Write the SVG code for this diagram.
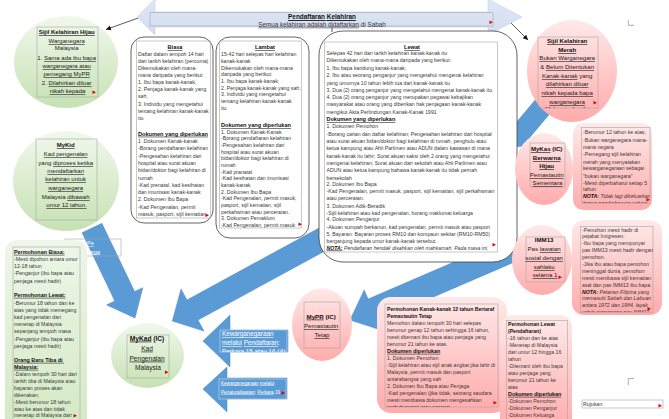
<svg xmlns="http://www.w3.org/2000/svg" width="669" height="419" viewBox="0 0 669 419">
<style>
.t{font-family:"Liberation Sans",Arial,sans-serif;font-size:5.2px;fill:#3a3a3a}
.c6{font-size:6px}
.c63{font-size:6.3px}
.h{font-weight:bold;fill:#111;text-decoration:underline}
.bd{font-weight:bold;fill:#111}
.m{text-anchor:middle}
.w{fill:#fff}
.it{font-style:italic}
.sq{text-decoration:underline wavy #e00000}
.tb{fill:none;stroke:#a6a6a6;stroke-width:0.6}
.rb{fill:#fff;stroke:#3c3c3c;stroke-width:0.8}
.ar{fill:#5b9bd5;stroke:#4a86c5;stroke-width:0.5}
.ln{fill:none;stroke:#111;stroke-width:0.7}
.fl{fill:#e00000}
.gm{fill:none;stroke:#999;stroke-width:0.8}
</style>
<defs>
<linearGradient id="gr" x1="0" y1="0" x2="0" y2="1"><stop offset="0" stop-color="#f1f8ec"/><stop offset="1" stop-color="#c6e1b3"/></linearGradient>
<linearGradient id="gr2" x1="0" y1="0" x2="0" y2="1"><stop offset="0" stop-color="#eef6e9"/><stop offset="1" stop-color="#d3e9c3"/></linearGradient>
<linearGradient id="pk" x1="0" y1="0" x2="0" y2="1"><stop offset="0" stop-color="#ffe9e9"/><stop offset="1" stop-color="#ffabab"/></linearGradient>
<linearGradient id="bn" x1="0" y1="0" x2="0" y2="1"><stop offset="0" stop-color="#dfe7f5"/><stop offset="1" stop-color="#d3ddf0"/></linearGradient>
<marker id="ah" markerWidth="6" markerHeight="6" refX="5" refY="3" orient="auto" markerUnits="userSpaceOnUse"><path d="M0,0.5 L5,3 L0,5.5 Z" fill="#111"/></marker>
<clipPath id="cLam"><rect x="219" y="40" width="84" height="188"/></clipPath>
<clipPath id="cLew"><rect x="324" y="42" width="174" height="210"/></clipPath>
<clipPath id="cMer"><rect x="538" y="37" width="60" height="71"/></clipPath>
<clipPath id="cKas"><rect x="581" y="127" width="69" height="76"/></clipPath>
<clipPath id="cImr"><rect x="580" y="226" width="73" height="86"/></clipPath>
<clipPath id="cF"><rect x="385" y="304" width="113" height="103"/></clipPath>
<clipPath id="cD"><rect x="220" y="330" width="67" height="22"/></clipPath>
<clipPath id="cE"><rect x="219" y="379" width="64" height="20"/></clipPath>
<clipPath id="cA"><rect x="65" y="239" width="56" height="17"/></clipPath>
</defs>

<g id="connectors">
  <polygon class="ar" points="101.9,223.3 134.6,291.6 142.8,287.7 135,318 106.6,304.9 114.8,301 82.1,232.7"/>
  <polygon class="ar" points="331.9,221 187,299.9 181,288.9 172.3,321 204,331.1 198,320.1 342.9,241.2"/>
  <polygon class="ar" points="516.8,261 377.7,321.1 381.6,330.3 350,320 364.2,289.9 368.1,299.1 507.2,239"/>
  <polygon class="ar" points="557.3,73.6 514.4,124.7 506.8,118.2 508,148 537.4,144 529.8,137.5 572.7,86.4"/>
  <polygon class="ar" points="288,330 230,330 230,315 203,341 230,367 230,352 288,352"/>
  <polygon class="ar" points="287,378 227,378 227,367 203,389 227,412 227,399 287,399"/>
  <rect class="tb" x="65" y="239" width="56" height="17"/>
  <g clip-path="url(#cA)">
    <text class="t w" style="font-size:5.6px" x="87" y="245"><tspan class="sq">Pe</tspan></text>
    <text class="t w" style="font-size:5.6px" x="78" y="253.5"><tspan class="sq">Kewarga</tspan></text>
  </g>
  <rect class="tb" style="stroke:#c9d9ef" x="220" y="330" width="67" height="22"/>
  <g clip-path="url(#cD)">
    <text class="t w c63" x="222" y="336"><tspan class="sq">Kewarganegaraan</tspan></text>
    <text class="t w c63" x="222" y="345"><tspan class="sq">melalui</tspan> <tspan class="sq">Pendaftaran</tspan>:</text>
    <text class="t w c63" x="222" y="354">Perkara 15 atau 16 (A)</text>
  </g>
  <rect class="tb" style="stroke:#c9d9ef" x="219" y="379" width="67" height="20"/>
  <g clip-path="url(#cE)">
    <text class="t w" style="font-size:4.6px" x="221" y="384.5"><tspan class="sq">Kewarganegaraan</tspan> <tspan class="sq">melalui</tspan></text>
    <text class="t w" style="font-size:4.6px" x="221" y="393.5"><tspan class="sq">Penaturalisasian</tspan>: <tspan class="sq">Perkara</tspan> 19</text>
  </g>
  <polygon class="fl" points="281.5,391 285,393 281.5,395"/>
  <line class="ln" x1="141" y1="17" x2="106" y2="29.5" marker-end="url(#ah)"/>
  <line class="ln" x1="507" y1="19" x2="528" y2="40" marker-end="url(#ah)"/>
  <line class="ln" x1="332" y1="26" x2="332" y2="32"/>
</g>

<g id="banner">
  <polygon points="137,17 155,-1 155,12 488,12 488,-1 522,17 488,35 488,27 155,27 155,35" fill="url(#bn)" stroke="#c3d1ea" stroke-width="0.6"/>
  <rect class="tb" x="150" y="12.7" width="343" height="13.3"/>
  <text class="t m h" style="font-size:6.4px" x="322" y="19.2"><tspan class="sq">Pendaftaran</tspan> <tspan class="sq">Kelahiran</tspan></text>
  <text class="t m" style="font-size:6.3px" x="322" y="26.6"><tspan class="sq">Semua kelahiran adalah didaftarkan</tspan> di Sabah</text>
  <polygon class="fl" points="489.5,20.5 493,22.3 489.5,24"/>
</g>

<g id="sijil-hijau">
  <ellipse cx="66" cy="62" rx="52" ry="46" fill="url(#gr)"/>
  <rect class="tb" x="37" y="27" width="61" height="70"/>
  <text class="t c6 m" x="67.5" y="34" style="fill:#222">
    <tspan class="h">Sijil Kelahiran Hijau</tspan>
    <tspan x="67.5" y="43" class="sq">Warganegara</tspan>
    <tspan x="67.5" y="49.6">Malaysia</tspan>
    <tspan x="67.5" y="60">1. <tspan class="sq">Sama ada ibu bapa</tspan></tspan>
    <tspan x="67.5" y="68" class="sq">warganegara atau</tspan>
    <tspan x="67.5" y="76" class="sq">pemegang MyPR</tspan>
    <tspan x="67.5" y="85">2. <tspan class="sq">Dilahirkan diluar</tspan></tspan>
    <tspan x="67.5" y="93" class="sq">nikah kepada</tspan>
  </text>
  <polygon class="fl" points="92.5,90.5 96,92.3 92.5,94"/>
</g>

<g id="mykid">
  <ellipse cx="66" cy="181" rx="53" ry="50" fill="url(#gr)"/>
  <rect class="tb" x="36" y="139" width="61" height="81"/>
  <text class="t c6 m" x="66.5" y="147" style="fill:#222">
    <tspan class="h">MyKid</tspan>
    <tspan x="66.5" y="156" class="sq">Kad pengenalan</tspan>
    <tspan x="66.5" y="165">yang <tspan class="sq">diproses ketika</tspan></tspan>
    <tspan x="66.5" y="173" class="sq">mendaftarkan</tspan>
    <tspan x="66.5" y="181" class="sq">kelahiran untuk</tspan>
    <tspan x="66.5" y="190" class="sq">warganegara</tspan>
    <tspan x="66.5" y="199">Malaysia <tspan class="sq">dibawah</tspan></tspan>
    <tspan x="66.5" y="207" class="sq">umur 12 tahun.</tspan>
  </text>
</g>

<g id="biasa">
  <rect class="rb" x="131" y="37" width="82" height="186" rx="13"/>
  <rect class="tb" x="136.5" y="41" width="74" height="177"/>
  <text class="t m h" style="font-size:5.6px" x="175" y="49.2">Biasa</text>
  <text class="t" x="138" y="56.1">
    <tspan x="138" y="56.1">Daftar dalam tempoh 14 hari</tspan>
    <tspan x="138" y="62.8">dari tarikh kelahiran (percuma)</tspan>
    <tspan x="138" y="70.1">Dikemukakan oleh mana-</tspan>
    <tspan x="138" y="76.8">mana daripada yang berikut:</tspan>
    <tspan x="138" y="84.1">1. Ibu bapa kanak-kanak;</tspan>
    <tspan x="138" y="91.1">2. Penjaga kanak-kanak yang</tspan>
    <tspan x="138" y="98.1">sah;</tspan>
    <tspan x="138" y="105.8">3. Individu yang mengetahui</tspan>
    <tspan x="138" y="112.8">tentang kelahiran kanak-kanak</tspan>
    <tspan x="138" y="120.1">itu</tspan>
  </text>
  <text class="t h" style="font-size:5.6px" x="138" y="135.7">Dokumen yang diperlukan</text>
  <text class="t" x="138" y="142.8">
    <tspan x="138" y="142.8">1 .Dokumen Kanak-kanak</tspan>
    <tspan x="138" y="150.1">-Borang pendaftaran kelahiran</tspan>
    <tspan x="138" y="157.5">-Pengesahan kelahiran dari</tspan>
    <tspan x="138" y="164.8">hospital atau surat akuan</tspan>
    <tspan x="138" y="172.1">bidan/doktor bagi kelahiran di</tspan>
    <tspan x="138" y="179.5">rumah</tspan>
    <tspan x="138" y="186.8">-Kad prenatal, kad kesihatan</tspan>
    <tspan x="138" y="194.1">dan imunisasi kanak-kanak</tspan>
    <tspan x="138" y="201.1">2. Dokumen Ibu Bapa</tspan>
    <tspan x="138" y="208.5">-Kad Pengenalan, permit</tspan>
    <tspan x="138" y="216.1">masuk, pasport, sijil kematian,</tspan>
  </text>
  <polygon class="fl" points="205.5,213.5 209,215.3 205.5,217"/>
</g>

<g id="lambat">
  <rect class="rb" x="216" y="37" width="93" height="201" rx="14"/>
  <rect class="tb" x="219.5" y="41" width="82" height="187"/>
  <text class="t m h" style="font-size:5.6px" x="265" y="49">Lambat</text>
  <g clip-path="url(#cLam)">
  <text class="t" x="221" y="55.8">
    <tspan x="221" y="55.8">15-42 hari selepas hari kelahiran</tspan>
    <tspan x="221" y="62.8">kanak-kanak</tspan>
    <tspan x="221" y="69.8">Dikemukakan oleh mana-mana</tspan>
    <tspan x="221" y="75.8">daripada yang berikut:</tspan>
    <tspan x="221" y="82.8">1. Ibu bapa kanak-kanak;</tspan>
    <tspan x="221" y="89.8">2. Penjaga kanak-kanak yang sah;</tspan>
    <tspan x="221" y="95.8">3. Individu yang mengetahui</tspan>
    <tspan x="221" y="102.8">tentang kelahiran kanak-kanak</tspan>
    <tspan x="221" y="109.8">itu</tspan>
  </text>
  <text class="t h" style="font-size:5.6px" x="221" y="127">Dokumen yang diperlukan</text>
  <text class="t" x="221" y="133.8">
    <tspan x="221" y="133.8">1. Dokumen Kanak-Kanak</tspan>
    <tspan x="221" y="139.8">-Borang pendaftaran kelahiran</tspan>
    <tspan x="221" y="146.8">-Pengesahan kelahiran dari</tspan>
    <tspan x="221" y="153.8">hospital atau surat akuan</tspan>
    <tspan x="221" y="159.8">bidan/doktor bagi kelahiran di</tspan>
    <tspan x="221" y="166.8">rumah</tspan>
    <tspan x="221" y="173.8">-Kad pranatal</tspan>
    <tspan x="221" y="179.8">-Kad kesihatan dan imunisasi</tspan>
    <tspan x="221" y="186.8">kanak-kanak</tspan>
    <tspan x="221" y="193.8">2. Dokumen Ibu Bapa</tspan>
    <tspan x="221" y="199.8">-Kad Pengenalan, permit masuk,</tspan>
    <tspan x="221" y="206.8">pasport, sijil kematian, sijil</tspan>
    <tspan x="221" y="213.8">perkahwinan atau perceraian.</tspan>
    <tspan x="221" y="219.8">3. Dokumen Pemaklum</tspan>
    <tspan x="221" y="226.8">-Kad Pengenalan, permit masuk</tspan>
  </text>
  </g>
  <polygon class="fl" points="298.5,222.5 302,224.3 298.5,226"/>
</g>

<g id="lewat">
  <rect class="rb" x="319" y="31" width="198" height="231" rx="24"/>
  <rect class="tb" x="324.5" y="42" width="173" height="210"/>
  <text class="t m h" style="font-size:5.6px" x="412" y="49">Lewat</text>
  <g clip-path="url(#cLew)">
  <text class="t" x="326.5" y="55.1">
    <tspan x="326.5" y="55.1">Selepas 42 hari dari tarikh kelahiran kanak-kanak itu</tspan>
    <tspan x="326.5" y="62.1">Dikemukakan oleh mana-mana daripada yang berikut:</tspan>
    <tspan x="326.5" y="70.1">1. Ibu bapa kandung kanak-kanak;</tspan>
    <tspan x="326.5" y="77.1">2. Ibu atau seorang penganjur yang mengetahui mengenai kelahiran</tspan>
    <tspan x="326.5" y="84.5">yang umurnya 10 tahun lebih tua dari kanak-kanak itu</tspan>
    <tspan x="326.5" y="91.8">3. Dua (2) orang penganjur yang mengetahui mengenai kanak-kanak itu</tspan>
    <tspan x="326.5" y="99.1">4. Dua (2) orang penganjur yang merupakan pegawai kebajikan</tspan>
    <tspan x="326.5" y="106.1">masyarakat atau orang yang diberikan hak penjagaan kanak-kanak</tspan>
    <tspan x="326.5" y="113.5">mengikut Akta Perlindungan Kanak-Kanak 1991</tspan>
  </text>
  <text class="t h" style="font-size:5.5px" x="326.5" y="121">Dokumen yang diperlukan</text>
  <text class="t" x="326.5" y="128.1">
    <tspan x="326.5" y="128.1">1. Dokumen Pemohon</tspan>
    <tspan x="326.5" y="135.5">-Borang carian dan daftar kelahiran; Pengesahan kelahiran dari hospital</tspan>
    <tspan x="326.5" y="142.8">atau surat akuan bidan/doktor bagi kelahiran di rumah, penghulu atau</tspan>
    <tspan x="326.5" y="150.1">ketua kampung atau Ahli Parlimen atau ADUN dalam kawasan  di mana</tspan>
    <tspan x="326.5" y="157.5">kanak-kanak itu lahir; Surat akuan saksi oleh 2 orang yang mengetahui</tspan>
    <tspan x="326.5" y="164.8">mengenai kelahiran; Surat akuan dari sekolah atau Ahli Parlimen atau</tspan>
    <tspan x="326.5" y="172.1">ADUN atau ketua kampung bahawa kanak-kanak itu tidak pernah</tspan>
    <tspan x="326.5" y="179.5">bersekolah</tspan>
    <tspan x="326.5" y="186.1">2. Dokumen Ibu Bapa</tspan>
    <tspan x="326.5" y="192.8">-Kad Pengenalan, permit masuk, pasport, sijil kematian, sijil perkahwinan</tspan>
    <tspan x="326.5" y="200.1">atau perceraian.</tspan>
    <tspan x="326.5" y="207.5">3. Dokumen Adik-Beradik</tspan>
    <tspan x="326.5" y="214.5">-Sijil kelahiran atau kad pengenalan, borang maklumat keluarga</tspan>
    <tspan x="326.5" y="221.1">4. Dokumen Penganjur</tspan>
    <tspan x="326.5" y="228.5">-Akuan sumpah berkanun, kad pengenalan, permit masuk atau pasport</tspan>
    <tspan x="326.5" y="235.8">5. Bayaran: Bayaran proses RM10 dan kompaun sekitar (RM10-RM50)</tspan>
    <tspan x="326.5" y="242.8">berganjung kepada umur kanak-kanak tersebut.</tspan>
    <tspan x="326.5" y="249.5" class="it"><tspan class="bd" style="text-decoration:underline">NOTA:</tspan> Pendaftaran hendak disahkan oleh mahkamah. Pada masa ini,</tspan>
  </text>
  </g>
  <polygon class="fl" points="492.5,243 496,244.8 492.5,246.5"/>
</g>

<g id="sijil-merah">
  <ellipse cx="572" cy="71" rx="45" ry="51" fill="url(#pk)"/>
  <rect class="tb" x="538" y="37" width="60" height="71"/>
  <g clip-path="url(#cMer)">
  <text class="t m" style="font-size:6.1px;fill:#222" x="568" y="43">
    <tspan class="h sq">Sijil Kelahiran</tspan>
    <tspan x="568" y="52" class="h sq">Merah</tspan>
    <tspan x="568" y="60.2" class="sq">Bukan Warganegara</tspan>
    <tspan x="568" y="69">&amp; <tspan class="sq">Belum Ditentukan</tspan></tspan>
    <tspan x="568" y="78"><tspan class="sq">Kanak-kanak</tspan> yang</tspan>
    <tspan x="568" y="86.2" class="sq">dilahirkan diluar</tspan>
    <tspan x="568" y="95" class="sq">nikah kepada bapa</tspan>
    <tspan x="568" y="104" class="sq">warganegara</tspan>
    <tspan x="568" y="111.3">Malaysia dan ibu</tspan>
  </text>
  </g>
  <polygon class="fl" points="593.5,101 597,102.8 593.5,104.5"/>
  <path class="gm" d="M628.3,20 V25.3 H634"/>
</g>

<g id="mykas">
  <ellipse cx="544" cy="169" rx="29" ry="36" fill="url(#pk)"/>
  <rect class="tb" x="530" y="143" width="35" height="44"/>
  <text class="t m" style="font-size:6.1px;fill:#222" x="547.5" y="151">
    <tspan class="bd"><tspan class="sq">MyKas</tspan> (IC)</tspan>
    <tspan x="547.5" y="160" class="h sq">Berwarna</tspan>
    <tspan x="547.5" y="168" class="h sq">Hijau</tspan>
    <tspan x="547.5" y="177" class="sq">Pemastautin</tspan>
    <tspan x="547.5" y="185" class="sq">Sementara</tspan>
  </text>
</g>

<g id="mykas-info">
  <rect x="573" y="123" width="79" height="87" rx="10" fill="url(#pk)"/>
  <rect class="tb" x="581.5" y="127.5" width="68.5" height="76"/>
  <g clip-path="url(#cKas)">
  <text class="t" style="font-size:5.2px" x="583" y="133.8">
    <tspan x="583" y="133.8">-Berumur 12 tahun ke atas;</tspan>
    <tspan x="583" y="141.8">-Bukan warganegara mana-</tspan>
    <tspan x="583" y="148.8">mana negara</tspan>
    <tspan x="583" y="155.8">-Pemegang sijil kelahiran</tspan>
    <tspan x="583" y="163.8">merah yang menyatakan</tspan>
    <tspan x="583" y="169.8">kewarganegaraan sebagai</tspan>
    <tspan x="583" y="177.8">"bukan warganegara"</tspan>
    <tspan x="583" y="184.8">-Mesti diperbaharui setiap 5</tspan>
    <tspan x="583" y="190.8">tahun</tspan>
    <tspan x="583" y="197.8" class="it"><tspan class="bd">NOTA:</tspan> Tidak lagi dikeluarkan,</tspan>
    <tspan x="583" y="204.8" class="it">hanya pembaharuan sahaja</tspan>
  </text>
  </g>
  <polygon class="fl" points="646.5,198 650,199.8 646.5,201.5"/>
</g>

<g id="imm13">
  <ellipse cx="542" cy="260" rx="30" ry="35" fill="url(#pk)"/>
  <rect class="tb" x="526" y="237" width="39" height="45"/>
  <text class="t m" style="font-size:6.1px;fill:#222" x="545" y="242">
    <tspan class="bd">IMM13</tspan>
    <tspan x="545" y="251">Pas <tspan class="sq">lawatan</tspan></tspan>
    <tspan x="545" y="260" class="sq">sosial dengan</tspan>
    <tspan x="545" y="269" class="sq">sahlaku</tspan>
    <tspan x="545" y="277" class="sq">selama 1</tspan>
  </text>
  <polygon class="fl" points="558.5,275.5 562,277.3 558.5,279"/>
</g>

<g id="imm13-info">
  <rect x="572" y="220" width="90" height="95" rx="12" fill="url(#pk)"/>
  <rect class="tb" x="580.5" y="226.5" width="72.5" height="86"/>
  <g clip-path="url(#cImr)">
  <text class="t" x="582" y="231.8">
    <tspan x="582" y="231.8">-Pemohon mesti hadir di</tspan>
    <tspan x="582" y="237.8">pejabat Imigresen.</tspan>
    <tspan x="582" y="244.8">-Ibu bapa yang mempunyai</tspan>
    <tspan x="582" y="251.8">pas IMM13 mesti hadir dengan</tspan>
    <tspan x="582" y="258.8">pemohon.</tspan>
    <tspan x="582" y="265.8">-Jika ibu atau bapa pemohon</tspan>
    <tspan x="582" y="272.8">meninggal dunia, pemohon</tspan>
    <tspan x="582" y="279.8">mesti membawa sijil kematian</tspan>
    <tspan x="582" y="286.8">asal dan pas IMM13 ibu bapa.</tspan>
    <tspan x="582" y="293.8" class="it"><tspan class="bd">NOTA:</tspan> Pelarian Filipina yang</tspan>
    <tspan x="582" y="299.8" class="it">memasuki Sabah dan Labuan</tspan>
    <tspan x="582" y="306.8" class="it">antara 1972 dan 1984, layak</tspan>
    <tspan x="582" y="313.8" class="it">untuk memegang pas IMM13</tspan>
  </text>
  </g>
  <polygon class="fl" points="647.5,307 651,308.8 647.5,310.5"/>
</g>

<g id="permohonan-info">
  <rect x="5" y="240" width="82" height="190" rx="12" fill="url(#gr2)"/>
  <rect class="tb" x="13" y="247" width="67" height="180"/>
  <text class="t h" style="font-size:5.4px" x="14" y="253.8">Permohonan Biasa<tspan style="text-decoration:none">:</tspan></text>
  <text class="t" x="14" y="260.8">
    <tspan x="14" y="260.8">-Mesti dipohon antara umur</tspan>
    <tspan x="14" y="267.8">12-18 tahun</tspan>
    <tspan x="14" y="274.8">-Penganjur (ibu bapa atau</tspan>
    <tspan x="14" y="282.8">penjaga mesti hadir)</tspan>
  </text>
  <text class="t h" style="font-size:5.4px" x="14" y="296.8">Permohonan Lewat:</text>
  <text class="t" x="14" y="304.8">
    <tspan x="14" y="304.8">-Berumur 18 tahun dan ke</tspan>
    <tspan x="14" y="311.8">atas yang tidak memegang</tspan>
    <tspan x="14" y="318.8">kad pengenalan dan</tspan>
    <tspan x="14" y="325.8">menetap di Malaysia</tspan>
    <tspan x="14" y="332.8">sepanjang tempoh masa</tspan>
    <tspan x="14" y="340.8">-Penganjur (ibu bapa atau</tspan>
    <tspan x="14" y="347.8">penjaga mesti hadir)</tspan>
  </text>
  <text class="t h" style="font-size:5.4px" x="14" y="361.8">
    <tspan x="14" y="361.8">Orang Baru Tiba di</tspan>
    <tspan x="14" y="368.8">Malaysia:</tspan>
  </text>
  <text class="t" x="14" y="375.8">
    <tspan x="14" y="375.8">-Dalam tempoh 30 hari dari</tspan>
    <tspan x="14" y="382.8">tarikh tiba di Malaysia atau</tspan>
    <tspan x="14" y="389.8">bayaran proses akan</tspan>
    <tspan x="14" y="396.8">dikenakan;</tspan>
    <tspan x="14" y="403.8">-Mesti berumur 18 tahun</tspan>
    <tspan x="14" y="410.6">atau ke atas dan tidak</tspan>
    <tspan x="14" y="417.2">menetap di Malaysia dari</tspan>
  </text>
  <polygon class="fl" points="73.5,414 77,415.8 73.5,417.5"/>
</g>

<g id="mykad">
  <ellipse cx="147.5" cy="355.5" rx="36.5" ry="32.5" fill="url(#gr)"/>
  <rect class="tb" x="127" y="335" width="42" height="43"/>
  <text class="t m" style="font-size:6.6px;fill:#222" x="148" y="340.6">
    <tspan class="bd"><tspan class="sq">MyKad</tspan> (IC)</tspan>
    <tspan x="148" y="350.6" class="sq">Kad</tspan>
    <tspan x="148" y="360.6" class="sq">Pengenalan</tspan>
    <tspan x="148" y="369.6">Malaysia</tspan>
  </text>
  <polygon class="fl" points="165,370.5 168.5,372.3 165,374"/>
</g>

<g id="mypr">
  <ellipse cx="322" cy="324.7" rx="30" ry="36.4" fill="url(#pk)"/>
  <rect class="tb" x="304" y="302" width="36" height="46"/>
  <text class="t m" style="font-size:6.2px;fill:#222" x="322" y="318.6">
    <tspan class="bd"><tspan class="sq">MyPR</tspan> (IC)</tspan>
    <tspan x="322" y="328.2" class="sq">Pemastautin</tspan>
    <tspan x="322" y="337.2" class="sq">Tetap</tspan>
  </text>
</g>

<g id="pr-kanak">
  <rect x="377" y="297" width="130" height="116" rx="14" fill="url(#pk)"/>
  <rect class="tb" x="385" y="304" width="113" height="103"/>
  <g clip-path="url(#cF)">
  <text class="t bd" style="font-size:5.1px" x="387" y="310.8">
    <tspan x="387" y="310.8">Permohonan Kanak-kanak 12 tahun Bertaraf</tspan>
    <tspan x="387" y="317.8">Pemastautin Tetap</tspan>
  </text>
  <text class="t" x="387" y="324.8">
    <tspan x="387" y="324.8">Memohon dalam tempoh 30 hari selepas</tspan>
    <tspan x="387" y="331.8">berumur genap 12 tahun sehingga 16 tahun,</tspan>
    <tspan x="387" y="338.8">mesti ditemani ibu bapa atau penjaga yang</tspan>
    <tspan x="387" y="345.8">berumur 21 tahun ke atas.</tspan>
  </text>
  <text class="t h" style="font-size:5.4px" x="387" y="352.8">Dokumen diperlukan</text>
  <text class="t" x="387" y="359.8">
    <tspan x="387" y="359.8">1. Dokumen Pemohon</tspan>
    <tspan x="387" y="366.8">-Sijil kelahiran atau sijil anak angkat jika lahir di</tspan>
    <tspan x="387" y="373.8">Malaysia, permit masuk dan pasport</tspan>
    <tspan x="387" y="380.8">antarabangsa yang sah</tspan>
    <tspan x="387" y="387.8">2. Dokumen Ibu Bapa atau Penjaga</tspan>
    <tspan x="387" y="394.8">-Kad pengenalan (jika tidak, seorang saudara</tspan>
    <tspan x="387" y="401.8">mesti membawa dokumen mengesahkan</tspan>
    <tspan x="387" y="408.8">perhubungan) atau pasport</tspan>
  </text>
  </g>
  <polygon class="fl" points="493.5,401 497,402.8 493.5,404.5"/>
</g>

<g id="pr-lewat">
  <rect x="500" y="315" width="72" height="115" rx="12" fill="url(#pk)"/>
  <rect class="tb" x="506.5" y="320.5" width="61" height="105"/>
  <text class="t bd" style="font-size:5.1px" x="508" y="325.8">
    <tspan x="508" y="325.8">Permohonan Lewat</tspan>
    <tspan x="508" y="332.8">(Pendaftaran)</tspan>
  </text>
  <text class="t" x="508" y="339.8">
    <tspan x="508" y="339.8">-16 tahun dan ke atas</tspan>
    <tspan x="508" y="346.8">-Menetap di Malaysia</tspan>
    <tspan x="508" y="353.8">dari umur 12 hingga 16</tspan>
    <tspan x="508" y="360.8">tahun</tspan>
    <tspan x="508" y="367.8">-Ditemani oleh ibu bapa</tspan>
    <tspan x="508" y="374.8">atau penjaga yang</tspan>
    <tspan x="508" y="381.8">berumur 21 tahun ke</tspan>
    <tspan x="508" y="388.8">atas</tspan>
  </text>
  <text class="t h" style="font-size:5.4px" x="508" y="395.8">Dokumen diperlukan</text>
  <text class="t" x="508" y="402.8">
    <tspan x="508" y="402.8">-Dokumen Pemohon</tspan>
    <tspan x="508" y="409.8">-Dokumen Penganjur</tspan>
    <tspan x="508" y="416.6">-Dokumen Keluarga</tspan>
  </text>
</g>

<g id="rujukan">
  <path class="gm" d="M628.3,385 V378.5 H634"/>
  <rect class="tb" x="582" y="400" width="81" height="8"/>
  <text class="t" x="583" y="405.8">Rujukan:</text>
  <polygon class="fl" points="658.5,404 662,405.8 658.5,407.5"/>
</g>
</svg>
